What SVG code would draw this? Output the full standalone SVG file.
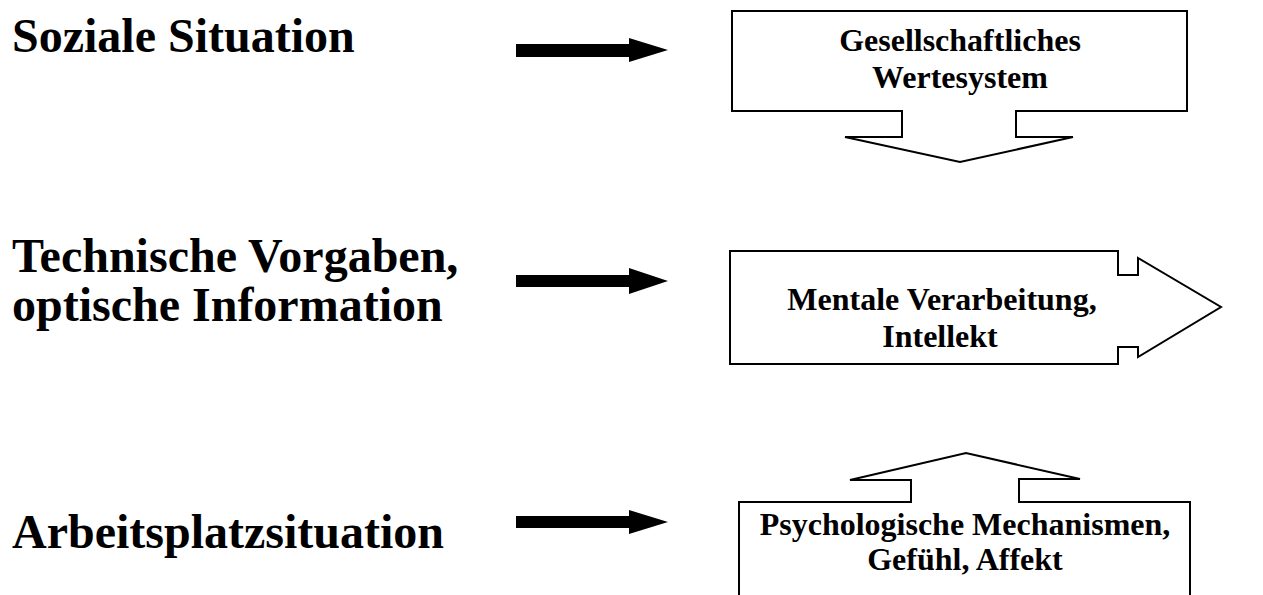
<svg xmlns="http://www.w3.org/2000/svg" width="1263" height="595" viewBox="0 0 1263 595">
<style>
.lbl{font-family:"Liberation Serif","Times New Roman",serif;font-weight:bold;font-size:48px;fill:#000}
.btx{font-family:"Liberation Serif","Times New Roman",serif;font-weight:bold;font-size:32px;fill:#000;text-anchor:middle}
.shape{fill:#fff;stroke:#000;stroke-width:2;stroke-linejoin:miter}
.blk{fill:#000;stroke:none}
</style>
<rect width="1263" height="595" fill="#fff"/>
<g id="label-soziale">
<text class="lbl" x="12" y="52">Soziale Situation</text>
</g>
<g id="label-technische">
<text class="lbl" x="12" y="272">Technische Vorgaben,</text>
<text class="lbl" x="12" y="321">optische Information</text>
</g>
<g id="label-arbeitsplatz">
<text class="lbl" x="12" y="548">Arbeitsplatzsituation</text>
</g>
<g id="connectors">
<polygon class="blk" points="516,44 629,44 629,38 668,50 629,62 629,57 516,57"/>
<polygon class="blk" points="516,275 629,275 629,268 668,281 629,294 629,287 516,287"/>
<polygon class="blk" points="516,516 629,516 629,510 668,522 629,534 629,528 516,528"/>
</g>
<g id="node-werte">
<polygon class="shape" points="732,11 1187,11 1187,111 1016,111 1016,137 1073,137 960,162 845,137 902,137 902,111 732,111"/>
<text class="btx" x="960" y="51">Gesellschaftliches</text>
<text class="btx" x="960" y="88">Wertesystem</text>
</g>
<g id="node-mental">
<polygon class="shape" points="730,251 1118,251 1118,275 1138,275 1138,258 1221,307 1138,357 1138,347 1118,347 1118,364 730,364"/>
<text class="btx" x="942" y="310">Mentale Verarbeitung,</text>
<text class="btx" x="940" y="347">Intellekt</text>
</g>
<g id="node-psych">
<path class="shape" d="M739,600 L739,502 L911,502 L911,480 L850,480 L966,453 L1080,479 L1019,479 L1019,502 L1190,502 L1190,600"/>
<text class="btx" x="965" y="535">Psychologische Mechanismen,</text>
<text class="btx" x="965" y="570">Gefühl, Affekt</text>
</g>
</svg>
